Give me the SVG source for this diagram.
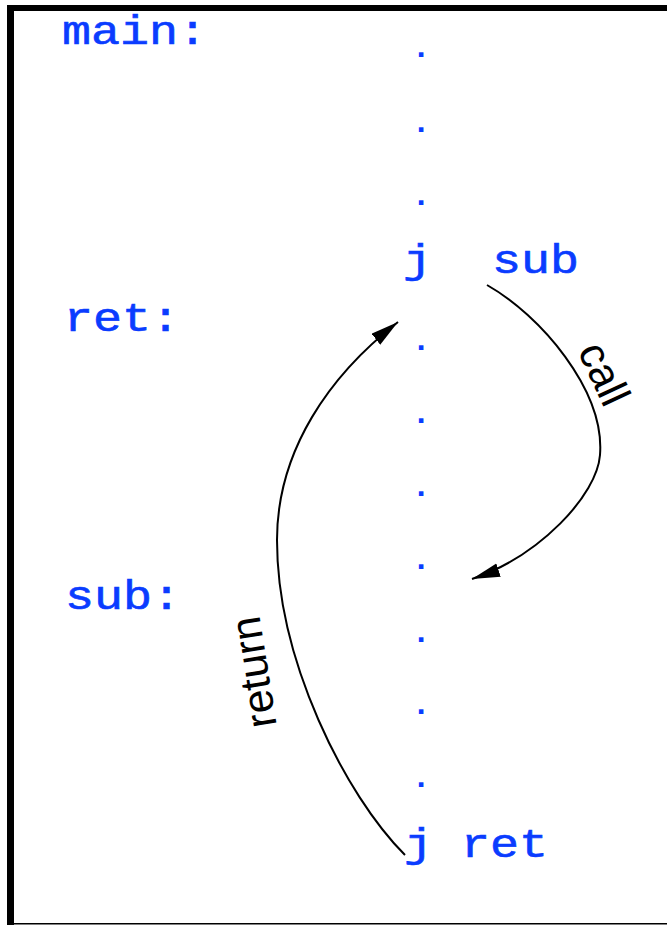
<svg xmlns="http://www.w3.org/2000/svg" width="667" height="925" viewBox="0 0 667 925">
<style>
.code{font-family:"Liberation Mono","DejaVu Sans Mono",monospace;font-weight:normal;font-size:40px;fill:#0a3cff;stroke:#0a3cff;stroke-width:0.6}
.dot{font-family:"Liberation Mono","DejaVu Sans Mono",monospace;font-weight:bold;font-size:32px;fill:#0a3cff;text-anchor:middle}
.lbl{font-family:"Liberation Sans",Arial,sans-serif;font-size:43px;fill:#000;text-anchor:middle}
.conn{fill:none;stroke:#000;stroke-width:2}
</style>
<defs>
<marker id="ah" markerUnits="userSpaceOnUse" markerWidth="30" markerHeight="16" refX="28" refY="7" orient="auto">
<path d="M0,0 L28,7 L0,14 z" fill="#000"/>
</marker>
</defs>
<rect width="667" height="925" fill="#fff"/>
<g id="frame">
<rect x="7" y="5" width="660" height="6" fill="#000"/>
<rect x="7" y="5" width="7" height="920" fill="#000"/>
<rect x="7" y="923" width="660" height="1.5" fill="#000"/>
</g>
<g id="label-main"><text class="code" x="62" y="44" textLength="145" lengthAdjust="spacingAndGlyphs">main:</text></g>
<g id="label-ret"><text class="code" x="64" y="331" textLength="116" lengthAdjust="spacingAndGlyphs">ret:</text></g>
<g id="label-sub"><text class="code" x="65" y="609" textLength="116" lengthAdjust="spacingAndGlyphs">sub:</text></g>
<g id="instr-jsub">
<text class="code" x="403" y="273" textLength="29" lengthAdjust="spacingAndGlyphs">j</text>
<text class="code" x="492" y="273" textLength="87" lengthAdjust="spacingAndGlyphs">sub</text>
</g>
<g id="instr-jret">
<text class="code" x="404" y="857" textLength="29" lengthAdjust="spacingAndGlyphs">j</text>
<text class="code" x="461" y="857" textLength="87" lengthAdjust="spacingAndGlyphs">ret</text>
</g>
<g id="dots">
<text class="dot" x="421" y="57">.</text>
<text class="dot" x="421" y="132">.</text>
<text class="dot" x="421" y="205">.</text>
<text class="dot" x="421" y="350">.</text>
<text class="dot" x="421" y="423">.</text>
<text class="dot" x="421" y="496">.</text>
<text class="dot" x="421" y="569">.</text>
<text class="dot" x="421" y="642">.</text>
<text class="dot" x="421" y="714">.</text>
<text class="dot" x="421" y="787">.</text>
</g>
<g id="connectors">
<path class="conn" d="M487,285 C540,315 605,390 600,455 C597,495 540,556 472,579" marker-end="url(#ah)"/>
<path class="conn" d="M405,855 C345,795 277,660 277,540 C277,450 330,375 398,322" marker-end="url(#ah)"/>
</g>
<g id="connector-labels">
<text class="lbl" transform="translate(591,380) rotate(65)">call</text>
<text class="lbl" transform="translate(268,670) rotate(-99)">return</text>
</g>
</svg>
